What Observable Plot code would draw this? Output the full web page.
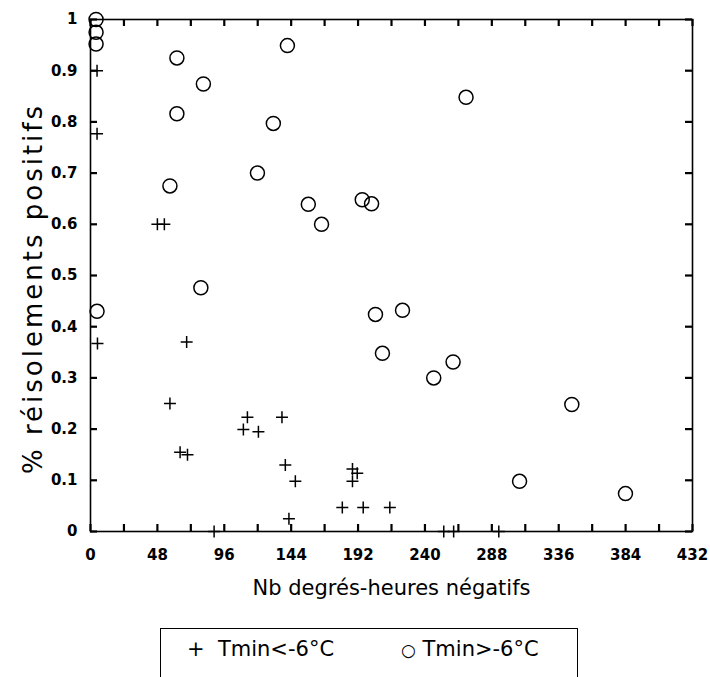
<!DOCTYPE html>
<html>
<head>
<meta charset="utf-8">
<script src="https://cdn.jsdelivr.net/npm/d3@7"></script>
<script src="https://cdn.jsdelivr.net/npm/@observablehq/plot@0.6"></script>
<style>
  body { margin: 0; background: #fff; font-family: "DejaVu Sans", sans-serif; }
  #legend {
    position: relative;
    margin-left: 160px;
    margin-top: 18px;
    width: 416px;
    height: 60px;
    border: 1.5px solid #000;
    border-bottom: none;
    font-size: 21px;
    color: #000;
  }
  #legend span { position: absolute; top: 8px; white-space: pre; }
</style>
</head>
<body>
<div id="chart"></div>
<div id="legend"><span style="left:26px">+  Tmin&lt;-6°C</span><span style="left:240px"><span style="position:static;font-size:17px">○</span> Tmin&gt;-6°C</span></div>
<script>
// Series: Tmin < -6°C (plus markers)
const plusX = [4.7, 4.7, 48, 53, 5, 69, 57, 112.6, 109.7, 120.5, 137.4, 64.3, 69.6, 139.8, 147, 142.4, 188, 191.4, 188, 180.7, 195.7, 214.8, 88.7, 253.5, 260.6, 293];
const plusY = [0.90, 0.777, 0.60, 0.60, 0.367, 0.370, 0.25, 0.223, 0.199, 0.195, 0.223, 0.155, 0.150, 0.130, 0.098, 0.025, 0.122, 0.114, 0.098, 0.047, 0.047, 0.047, 0, 0, 0, 0];
// Series: Tmin > -6°C (open circles)
const circX = [4, 4, 4, 141.3, 62, 81, 62, 131.2, 119.8, 57, 79.2, 4.7, 269.5, 156.3, 165.8, 195, 201.7, 204.5, 223.9, 209.5, 260.2, 246.3, 345.4, 307.9, 383.9];
const circY = [1.0, 0.975, 0.952, 0.949, 0.925, 0.874, 0.816, 0.797, 0.70, 0.675, 0.476, 0.43, 0.848, 0.639, 0.60, 0.648, 0.64, 0.424, 0.432, 0.348, 0.331, 0.30, 0.248, 0.098, 0.074];

const xTickLabels = [0, 48, 96, 144, 192, 240, 288, 336, 384, 432];
const xMinorTicks = d3.range(0, 433, 24);
const yTickLabels = [0, 0.1, 0.2, 0.3, 0.4, 0.5, 0.6, 0.7, 0.8, 0.9, 1];
const xTitle = "Nb degrés-heures négatifs";
const yTitle = "% réisolements positifs";

const plusData = plusX.map((x, i) => ({x, y: plusY[i]}));
const circData = circX.map((x, i) => ({x, y: circY[i]}));
const xTickData = xMinorTicks.map(v => ({v}));
const yTickData = yTickLabels.map(v => ({v}));

const thinPlus = {
  draw(context, size) {
    const r = Math.sqrt(size / Math.PI);
    context.moveTo(-r, 0); context.lineTo(r, 0);
    context.moveTo(0, -r); context.lineTo(0, r);
  }
};

const W = 710, H = 610, ML = 90, MR = 18, MT = 19, MB = 79;
const plotW = W - ML - MR, plotH = H - MT - MB, TICK = 7;

const chart = Plot.plot({
  width: W, height: H,
  marginLeft: ML, marginRight: MR, marginTop: MT, marginBottom: MB,
  style: { fontFamily: "DejaVu Sans, sans-serif", color: "#000", background: "#fff" },
  x: { domain: [0, 432] },
  y: { domain: [0, 1] },
  marks: [
    Plot.frame({ stroke: "#000", strokeWidth: 1.6 }),
    // inward ticks on all four sides
    Plot.ruleX(xTickData, { x: "v", insetTop: plotH - TICK, stroke: "black", strokeWidth: 2.2 }),
    Plot.ruleX(xTickData, { x: "v", insetBottom: plotH - TICK, stroke: "black", strokeWidth: 2.2 }),
    Plot.ruleY(yTickData, { y: "v", insetRight: plotW - TICK, stroke: "black", strokeWidth: 2.2 }),
    Plot.ruleY(yTickData, { y: "v", insetLeft: plotW - TICK, stroke: "black", strokeWidth: 2.2 }),
    // tick labels
    Plot.axisX(xTickLabels, { anchor: "bottom", tickSize: 0, tickPadding: 18, fontSize: 15, fontWeight: "bold", label: null }),
    Plot.axisY(yTickLabels, { anchor: "left", tickSize: 0, tickPadding: 13, fontSize: 15, fontWeight: "bold", label: null, tickFormat: d => String(d) }),
    // titles
    Plot.text([xTitle], { frameAnchor: "bottom", dy: 63, fontSize: 21, text: d => d }),
    Plot.text([yTitle], { frameAnchor: "left", textAnchor: "middle", rotate: -90, dx: -57, dy: 13, fontSize: 26, text: d => d }),
    // data
    Plot.dot(circData, { x: "x", y: "y", r: 7, stroke: "#000", strokeWidth: 1.5, fill: "none" }),
    Plot.dot(plusData, { x: "x", y: "y", r: 6, symbol: thinPlus, stroke: "#000", strokeWidth: 1.5, fill: "none" })
  ]
});
// widen the vertical title's letter spacing like the plotter font
d3.select(chart).selectAll("text").filter(function () { return this.textContent === yTitle; })
  .attr("letter-spacing", "3px").style("letter-spacing", "3px");
document.getElementById("chart").appendChild(chart);
</script>
</body>
</html>
